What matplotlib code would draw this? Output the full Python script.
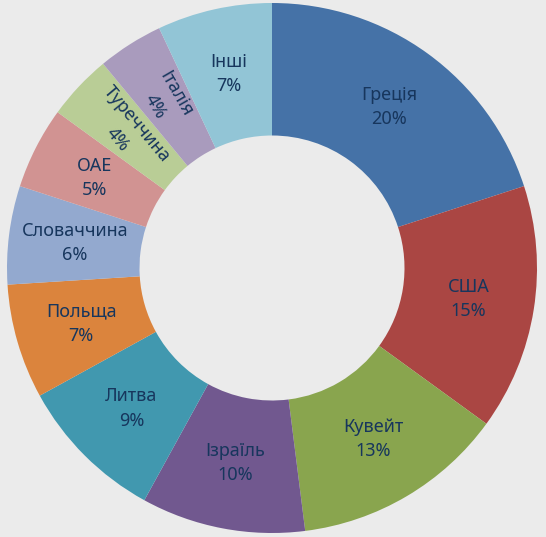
import math

import matplotlib
matplotlib.use("Agg")
import matplotlib.pyplot as plt

# export share by country, %
countries = ["Греція", "США", "Кувейт", "Ізраїль", "Литва", "Польща",
             "Словаччина", "ОАЕ", "Туреччина", "Італія", "Інші"]
shares = [20, 15, 13, 10, 9, 7, 6, 5, 4, 4, 7]
colors = ["#4572a7", "#aa4643", "#89a54e", "#71588f", "#4198af", "#db843d",
          "#93a9cf", "#d19392", "#b9cd96", "#a99bbd", "#92c5d6"]
# rotated labels for the thin slices
rotations = {"Туреччина": -50, "Італія": -60}

BG = "#ebebeb"
TEXT = "#17365d"

plt.rcParams["font.family"] = ["Noto Sans", "DejaVu Sans"]

fig = plt.figure(figsize=(5.46, 5.37), dpi=100, facecolor=BG)
ax = fig.add_axes([0, 0, 1, 1])
ax.set_facecolor(BG)

wedges, _ = ax.pie(shares, colors=colors, startangle=90, counterclock=False,
                   radius=1.0, wedgeprops=dict(width=0.5, linewidth=0))

total = sum(shares)
for name, val, w in zip(countries, shares, wedges):
    mid = (w.theta1 + w.theta2) / 2
    r = 0.75
    x = r * math.cos(math.radians(mid))
    y = r * math.sin(math.radians(mid))
    ax.text(x, y, f"{name}\n{round(val / total * 100)}%", ha="center", va="center",
            fontsize=13, color=TEXT, rotation=rotations.get(name, 0),
            rotation_mode="anchor", linespacing=1.45)

# centre sits at about (272, 268) px, radius 265 px
ax.set_xlim(-272 / 265, (546 - 272) / 265)
ax.set_ylim(-(537 - 268) / 265, 268 / 265)
ax.set_aspect("auto")
ax.axis("off")

fig.savefig("out.png", dpi=100, facecolor=BG)
